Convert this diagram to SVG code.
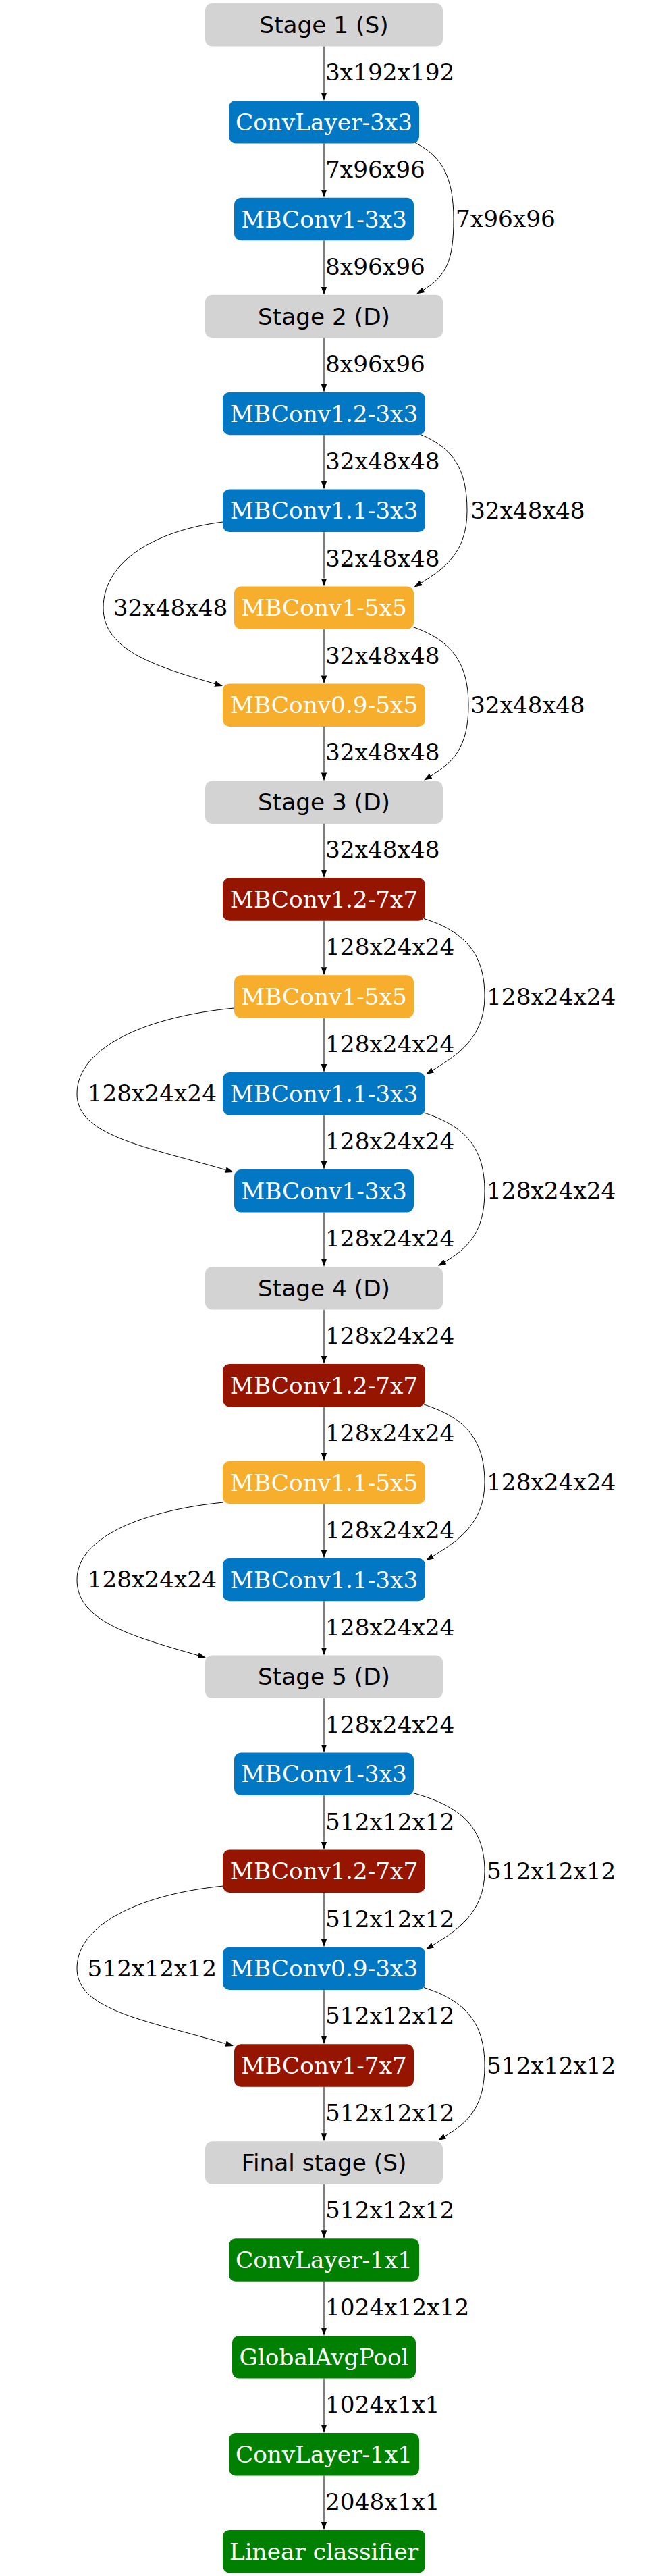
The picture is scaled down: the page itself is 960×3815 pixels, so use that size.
<svg xmlns="http://www.w3.org/2000/svg" width="960" height="3815" viewBox="0 0 960 3815">
<style>
.st rect{fill:#d3d3d3}
.bl rect{fill:#0277c3}
.or rect{fill:#f7ae2c}
.rd rect{fill:#961500}
.gr rect{fill:#008000}
.st text{font-family:"DejaVu Sans",sans-serif;font-size:34.3px;fill:#000;text-anchor:middle}
.nd text{font-family:"DejaVu Serif",serif;font-size:34.3px;fill:#fff;text-anchor:middle}
.lbl{font-family:"DejaVu Serif",serif;font-size:34.3px;fill:#000}
.e{fill:none;stroke:#000;stroke-width:1;marker-end:url(#ah)}
</style>
<defs>
<marker id="ah" markerUnits="userSpaceOnUse" markerWidth="14" markerHeight="10" refX="0" refY="5" orient="auto" viewBox="0 0 14 10">
<path d="M0,0.8 L12,5 L0,9.2 Z" fill="#000"/>
</marker>
</defs>
<rect width="960" height="3815" fill="#fff"/>
<g id="edges">
<path class="e" d="M480,68.5 V136.9"/>
<path class="e" d="M480,212.4 V280.8"/>
<path class="e" d="M480,356.3 V424.8"/>
<path class="e" d="M480,500.3 V568.7"/>
<path class="e" d="M480,644.2 V712.6"/>
<path class="e" d="M480,788.1 V856.5"/>
<path class="e" d="M480,932 V1000.4"/>
<path class="e" d="M480,1075.9 V1144.4"/>
<path class="e" d="M480,1219.9 V1288.3"/>
<path class="e" d="M480,1363.8 V1432.2"/>
<path class="e" d="M480,1507.7 V1576.1"/>
<path class="e" d="M480,1651.6 V1720"/>
<path class="e" d="M480,1795.5 V1864"/>
<path class="e" d="M480,1939.5 V2007.9"/>
<path class="e" d="M480,2083.4 V2151.8"/>
<path class="e" d="M480,2227.3 V2295.7"/>
<path class="e" d="M480,2371.2 V2439.6"/>
<path class="e" d="M480,2515.1 V2583.6"/>
<path class="e" d="M480,2659.1 V2727.5"/>
<path class="e" d="M480,2803 V2871.4"/>
<path class="e" d="M480,2946.9 V3015.3"/>
<path class="e" d="M480,3090.8 V3159.2"/>
<path class="e" d="M480,3234.7 V3303.2"/>
<path class="e" d="M480,3378.7 V3447.1"/>
<path class="e" d="M480,3522.6 V3591"/>
<path class="e" d="M480,3666.5 V3734.9"/>
<path class="e" d="M615,211.5 C655,231.5 672,262.5 672,324.5 C672,386.5 661.2,408.5 627.2,429.3"/>
<path class="e" d="M622.7,643.3 C671.2,663.3 692,694.4 692,756.4 C692,818.4 657.7,842.5 623.7,863.3"/>
<path class="e" d="M612,928.5 C669.4,948.5 694,982.2 694,1044.2 C694,1106.2 672.2,1128.5 638.2,1149.3"/>
<path class="e" d="M628,1360.5 C691,1380.5 718,1414 718,1476 C718,1538 675.2,1564 641.2,1584.8"/>
<path class="e" d="M628,1648 C691,1668 718,1701.8 718,1763.8 C718,1825.8 693.2,1848 659.2,1868.8"/>
<path class="e" d="M628,2080 C691,2100 718,2133.6 718,2195.6 C718,2257.6 675.2,2284 641.2,2304.8"/>
<path class="e" d="M612,2655.5 C686.2,2675.5 718,2709.3 718,2771.3 C718,2833.3 675.2,2860 641.2,2880.8"/>
<path class="e" d="M628,2943.5 C691,2963.5 718,2997.1 718,3059.1 C718,3121.1 693.2,3143 659.2,3163.8"/>
<path class="e" d="M330,773 C232.6,785 153,830.2 153,900.2 C153,962 227.5,986.2 318.5,1012.6"/>
<path class="e" d="M347,1493 C218.9,1505 114,1550.1 114,1619.9 C114,1681.9 213.2,1697.4 334.5,1732.6"/>
<path class="e" d="M331,2225 C211.7,2237 114,2276.5 114,2339.5 C114,2401.1 194.8,2423 293.5,2451.6"/>
<path class="e" d="M331,2793 C211.7,2805 114,2848 114,2915.2 C114,2976.5 213.2,2991.4 334.5,3026.6"/>
<text class="lbl" x="482" y="119">3x192x192</text>
<text class="lbl" x="482" y="262.9">7x96x96</text>
<text class="lbl" x="482" y="406.8">8x96x96</text>
<text class="lbl" x="482" y="550.8">8x96x96</text>
<text class="lbl" x="482" y="694.7">32x48x48</text>
<text class="lbl" x="482" y="838.6">32x48x48</text>
<text class="lbl" x="482" y="982.5">32x48x48</text>
<text class="lbl" x="482" y="1126.4">32x48x48</text>
<text class="lbl" x="482" y="1270.4">32x48x48</text>
<text class="lbl" x="482" y="1414.3">128x24x24</text>
<text class="lbl" x="482" y="1558.2">128x24x24</text>
<text class="lbl" x="482" y="1702.1">128x24x24</text>
<text class="lbl" x="482" y="1846">128x24x24</text>
<text class="lbl" x="482" y="1990">128x24x24</text>
<text class="lbl" x="482" y="2133.9">128x24x24</text>
<text class="lbl" x="482" y="2277.8">128x24x24</text>
<text class="lbl" x="482" y="2421.7">128x24x24</text>
<text class="lbl" x="482" y="2565.6">128x24x24</text>
<text class="lbl" x="482" y="2709.6">512x12x12</text>
<text class="lbl" x="482" y="2853.5">512x12x12</text>
<text class="lbl" x="482" y="2997.4">512x12x12</text>
<text class="lbl" x="482" y="3141.3">512x12x12</text>
<text class="lbl" x="482" y="3285.2">512x12x12</text>
<text class="lbl" x="482" y="3429.2">1024x12x12</text>
<text class="lbl" x="482" y="3573.1">1024x1x1</text>
<text class="lbl" x="482" y="3717">2048x1x1</text>
<text class="lbl" x="675" y="336">7x96x96</text>
<text class="lbl" x="697" y="767.9">32x48x48</text>
<text class="lbl" x="697" y="1055.7">32x48x48</text>
<text class="lbl" x="721" y="1487.5">128x24x24</text>
<text class="lbl" x="721" y="1775.3">128x24x24</text>
<text class="lbl" x="721" y="2207">128x24x24</text>
<text class="lbl" x="721" y="2782.8">512x12x12</text>
<text class="lbl" x="721" y="3070.6">512x12x12</text>
<text class="lbl" x="337.3" y="911.8" text-anchor="end">32x48x48</text>
<text class="lbl" x="321" y="1631.4" text-anchor="end">128x24x24</text>
<text class="lbl" x="321" y="2351" text-anchor="end">128x24x24</text>
<text class="lbl" x="321" y="2926.7" text-anchor="end">512x12x12</text>
</g>
<g id="n0" class="st"><rect x="304" y="5" width="352" height="63.5" rx="10"/><text x="480" y="48.8">Stage 1 (S)</text></g>
<g id="n1" class="nd bl"><rect x="339" y="148.9" width="282" height="63.5" rx="10"/><text x="480" y="192.7">ConvLayer-3x3</text></g>
<g id="n2" class="nd bl"><rect x="347" y="292.8" width="266" height="63.5" rx="10"/><text x="480" y="336.6">MBConv1-3x3</text></g>
<g id="n3" class="st"><rect x="304" y="436.8" width="352" height="63.5" rx="10"/><text x="480" y="480.6">Stage 2 (D)</text></g>
<g id="n4" class="nd bl"><rect x="330" y="580.7" width="300" height="63.5" rx="10"/><text x="480" y="624.5">MBConv1.2-3x3</text></g>
<g id="n5" class="nd bl"><rect x="330" y="724.6" width="300" height="63.5" rx="10"/><text x="480" y="768.4">MBConv1.1-3x3</text></g>
<g id="n6" class="nd or"><rect x="347" y="868.5" width="266" height="63.5" rx="10"/><text x="480" y="912.3">MBConv1-5x5</text></g>
<g id="n7" class="nd or"><rect x="330" y="1012.4" width="300" height="63.5" rx="10"/><text x="480" y="1056.2">MBConv0.9-5x5</text></g>
<g id="n8" class="st"><rect x="304" y="1156.4" width="352" height="63.5" rx="10"/><text x="480" y="1200.2">Stage 3 (D)</text></g>
<g id="n9" class="nd rd"><rect x="330" y="1300.3" width="300" height="63.5" rx="10"/><text x="480" y="1344.1">MBConv1.2-7x7</text></g>
<g id="n10" class="nd or"><rect x="347" y="1444.2" width="266" height="63.5" rx="10"/><text x="480" y="1488">MBConv1-5x5</text></g>
<g id="n11" class="nd bl"><rect x="330" y="1588.1" width="300" height="63.5" rx="10"/><text x="480" y="1631.9">MBConv1.1-3x3</text></g>
<g id="n12" class="nd bl"><rect x="347" y="1732" width="266" height="63.5" rx="10"/><text x="480" y="1775.8">MBConv1-3x3</text></g>
<g id="n13" class="st"><rect x="304" y="1876" width="352" height="63.5" rx="10"/><text x="480" y="1919.8">Stage 4 (D)</text></g>
<g id="n14" class="nd rd"><rect x="330" y="2019.9" width="300" height="63.5" rx="10"/><text x="480" y="2063.7">MBConv1.2-7x7</text></g>
<g id="n15" class="nd or"><rect x="330" y="2163.8" width="300" height="63.5" rx="10"/><text x="480" y="2207.6">MBConv1.1-5x5</text></g>
<g id="n16" class="nd bl"><rect x="330" y="2307.7" width="300" height="63.5" rx="10"/><text x="480" y="2351.5">MBConv1.1-3x3</text></g>
<g id="n17" class="st"><rect x="304" y="2451.6" width="352" height="63.5" rx="10"/><text x="480" y="2495.4">Stage 5 (D)</text></g>
<g id="n18" class="nd bl"><rect x="347" y="2595.6" width="266" height="63.5" rx="10"/><text x="480" y="2639.4">MBConv1-3x3</text></g>
<g id="n19" class="nd rd"><rect x="330" y="2739.5" width="300" height="63.5" rx="10"/><text x="480" y="2783.3">MBConv1.2-7x7</text></g>
<g id="n20" class="nd bl"><rect x="330" y="2883.4" width="300" height="63.5" rx="10"/><text x="480" y="2927.2">MBConv0.9-3x3</text></g>
<g id="n21" class="nd rd"><rect x="347" y="3027.3" width="266" height="63.5" rx="10"/><text x="480" y="3071.1">MBConv1-7x7</text></g>
<g id="n22" class="st"><rect x="304" y="3171.2" width="352" height="63.5" rx="10"/><text x="480" y="3215">Final stage (S)</text></g>
<g id="n23" class="nd gr"><rect x="339" y="3315.2" width="282" height="63.5" rx="10"/><text x="480" y="3359">ConvLayer-1x1</text></g>
<g id="n24" class="nd gr"><rect x="344" y="3459.1" width="272" height="63.5" rx="10"/><text x="480" y="3502.9">GlobalAvgPool</text></g>
<g id="n25" class="nd gr"><rect x="339" y="3603" width="282" height="63.5" rx="10"/><text x="480" y="3646.8">ConvLayer-1x1</text></g>
<g id="n26" class="nd gr"><rect x="330" y="3746.9" width="300" height="63.5" rx="10"/><text x="480" y="3790.7">Linear classifier</text></g>
</svg>
